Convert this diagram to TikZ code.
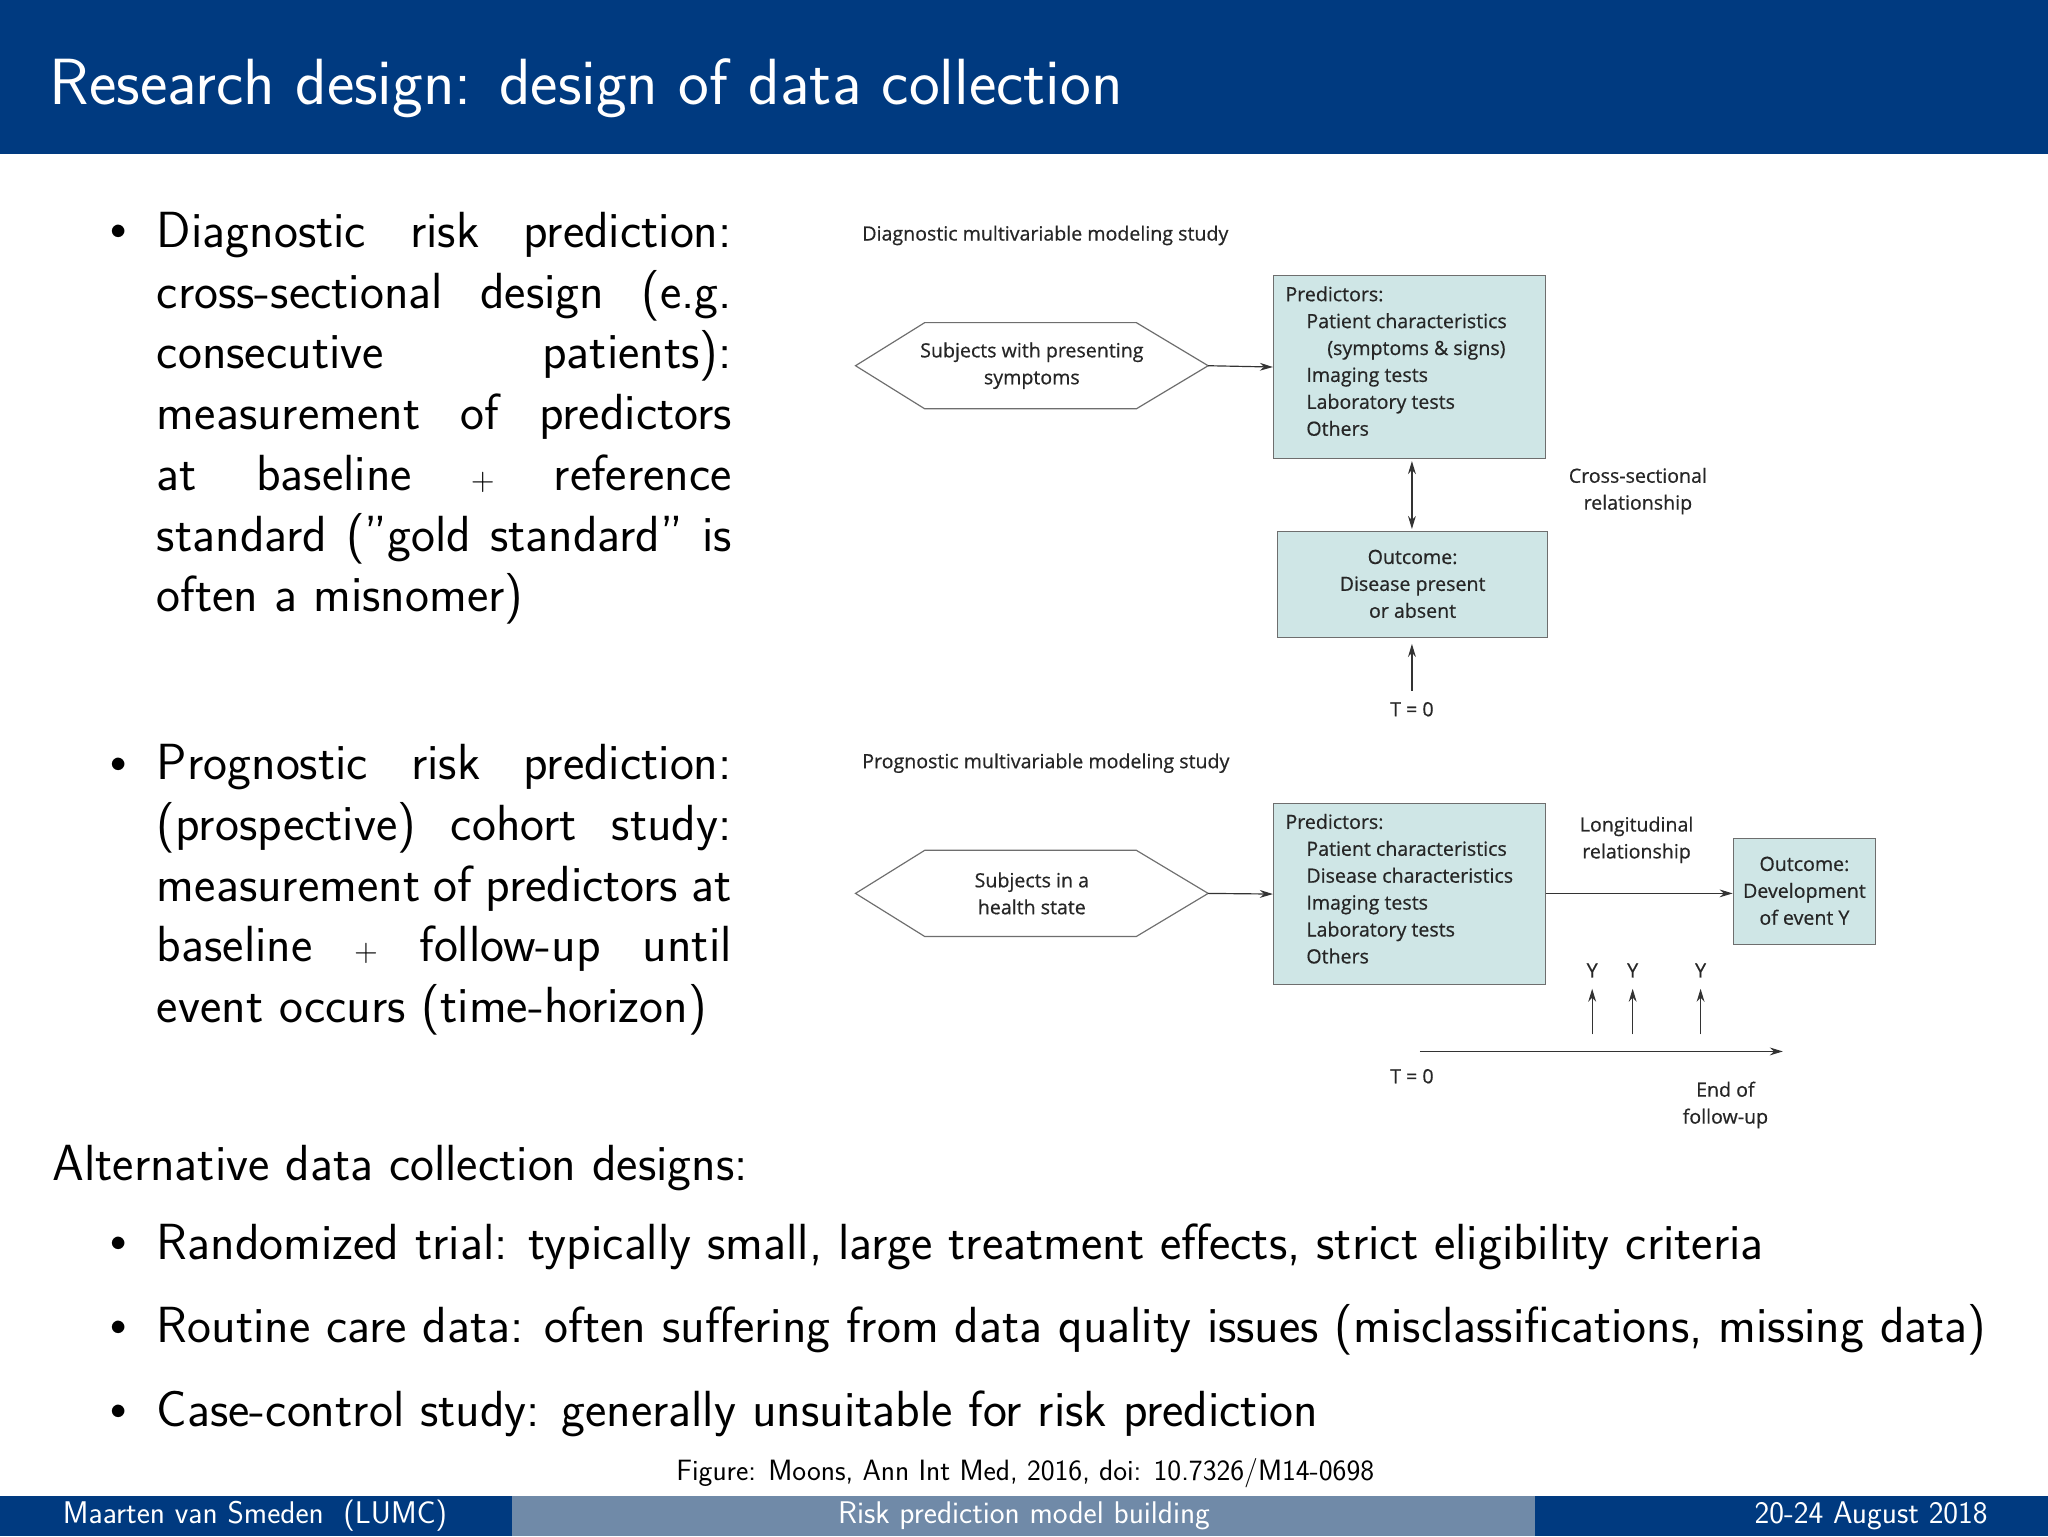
\documentclass[tikz,border=0pt]{standalone}
\usepackage{fontspec}
\newfontfamily\dfont[FakeBold=0.6]{Open Sans}
\usetikzlibrary{arrows.meta}
\definecolor{bar}{RGB}{0,58,128}
\definecolor{midbar}{RGB}{112,138,168}
\definecolor{boxfill}{RGB}{207,230,230}
\definecolor{boxline}{RGB}{110,110,110}
\tikzset{
 slide/.style={anchor=mid west,inner sep=0pt,font=\sffamily\fontsize{38.9}{44}\selectfont},
 dtext/.style={inner sep=0pt,font=\dfont\fontsize{15}{20.6}\selectfont,text=black!85},
 pbox/.style={draw=boxline,fill=boxfill,line width=0.9pt},
 arr/.style={-{Stealth[length=10pt,width=6pt]},line width=0.9pt,black!80},
 foot/.style={inner sep=0pt,font=\sffamily\fontsize{24}{26}\selectfont,text=white}
}
\newcommand{\jl}[1]{\makebox[440pt][s]{#1}}
\begin{document}
\begin{tikzpicture}[x=1pt,y=-1pt]
\useasboundingbox (0,0) rectangle (1568,1176);
\fill[white] (0,0) rectangle (1568,1176);
\fill[bar] (0,0) rectangle (1568,118);
\node[anchor=mid west,inner sep=0pt,text=white,font=\sffamily\fontsize{50}{54}\selectfont] (title) at (38,78) {Research design: design of data collection};
% footer
\fill[bar] (0,1145) rectangle (392,1176);
\fill[midbar] (392,1145) rectangle (1175,1176);
\fill[bar] (1175,1145) rectangle (1568,1176);
\node[foot,anchor=mid west] (f1) at (48,1164) {Maarten van Smeden\ \ (LUMC)};
\node[foot,anchor=mid] (f2) at (784,1164) {Risk prediction model building};
\node[foot,anchor=mid east] (f3) at (1522,1164) {20-24 August 2018};
% bullets
\foreach \y/\n in {178/b1,586/b2,953/b3,1017/b4,1081/b5}
  \node[inner sep=0pt] (\n) at (91,\y) {\fontsize{38}{40}\selectfont$\bullet$};
\node[slide] (l1) at (120,187) {\jl{Diagnostic risk prediction:}};
\node[slide] (l2) at (120,234) {\jl{cross-sectional design (e.g.}};
\node[slide] (l3) at (120,280) {\jl{consecutive patients):}};
\node[slide] (l4) at (120,327) {\jl{measurement of predictors}};
\node[slide] (l5) at (120,373) {\jl{at baseline $+$ reference}};
\node[slide] (l6) at (120,420) {\jl{standard (''gold standard'' is}};
\node[slide] (l7) at (120,466) {often a misnomer)};
\node[slide] (m1) at (120,595) {\jl{Prognostic risk prediction:}};
\node[slide] (m2) at (120,641) {\jl{(prospective) cohort study:}};
\node[slide] (m3) at (120,688) {\jl{measurement of predictors at}};
\node[slide] (m4) at (120,734) {\jl{baseline $+$ follow-up until}};
\node[slide] (m5) at (120,781) {event occurs (time-horizon)};
\node[slide] (alt) at (40,902) {Alternative data collection designs:};
\node[slide] (r1) at (120,962) {Randomized trial: typically small, large treatment effects, strict eligibility criteria};
\node[slide] (r2) at (120,1026) {Routine care data: often suffering from data quality issues (misclassifications, missing data)};
\node[slide] (r3) at (120,1090) {Case-control study: generally unsuitable for risk prediction};
\node[inner sep=0pt,anchor=mid,font=\sffamily\fontsize{22.5}{24}\selectfont] (fig) at (785,1131) {Figure: Moons, Ann Int Med, 2016, doi: 10.7326/M14-0698};
% diagram 1
\node[dtext,anchor=mid west] (t1) at (660,182) {Diagnostic multivariable modeling study};
\draw[pbox,fill=white] (655,280) -- (708,247) -- (870,247) -- (925,280) -- (870,313) -- (708,313) -- cycle;
\coordinate (h1r) at (925,280);
\node[dtext,align=center] (h1) at (790,280) {Subjects with presenting\\symptoms};
\node[pbox,minimum width=208pt,minimum height=140pt,inner sep=0pt] (p1) at (1079,281) {};
\node[dtext,anchor=north west,align=left] (p1t) at (984,219) {Predictors:\\\hspace{16pt}Patient characteristics\\\hspace{32pt}(symptoms \& signs)\\\hspace{16pt}Imaging tests\\\hspace{16pt}Laboratory tests\\\hspace{16pt}Others};
\draw[arr] (h1r) -- (p1.west);
\node[pbox,minimum width=207pt,minimum height=81pt,inner sep=0pt] (o1) at (1081.5,447.5) {};
\node[dtext,align=center] (o1t) at (1081.5,447) {Outcome:\\Disease present\\or absent};
\draw[arr,{Stealth[length=10pt,width=6pt]}-{Stealth[length=10pt,width=6pt]}] (1081,353) -- (1081,405);
\node[dtext,align=center] (cs) at (1254,376) {Cross-sectional\\relationship};
\node[dtext] (t0a) at (1081,543) {T = 0};
\coordinate (t0au) at (1081,529);
\draw[arr] (t0au) -- (1081,493);
% diagram 2
\node[dtext,anchor=mid west] (t2) at (660,586) {Prognostic multivariable modeling study};
\draw[pbox,fill=white] (655,684) -- (708,651) -- (870,651) -- (925,684) -- (870,717) -- (708,717) -- cycle;
\coordinate (h2r) at (925,684);
\node[dtext,align=center] (h2) at (790,684) {Subjects in a\\health state};
\node[pbox,minimum width=208pt,minimum height=139pt,inner sep=0pt] (p2) at (1079,684.5) {};
\node[dtext,anchor=north west,align=left] (p2t) at (984,623) {Predictors:\\\hspace{16pt}Patient characteristics\\\hspace{16pt}Disease characteristics\\\hspace{16pt}Imaging tests\\\hspace{16pt}Laboratory tests\\\hspace{16pt}Others};
\draw[arr] (h2r) -- (p2.west);
\node[pbox,minimum width=109pt,minimum height=81pt,inner sep=0pt] (o2) at (1381.5,682.5) {};
\node[dtext,align=center] (o2t) at (1381.5,682) {Outcome:\\Development\\of event Y};
\draw[arr] (p2.east |- 0,684) -- (o2.west |- 0,684);
\node[dtext,align=center] (lg) at (1253,643) {Longitudinal\\relationship};
\foreach \x/\n in {1219/ya,1250/yb,1302/yc}{
  \node[dtext] (\n) at (\x,743) {Y};
  \coordinate (\n b) at (\x,792);
  \draw[arr] (\n b) -- (\x,757);
}
\coordinate (tl0) at (1087,805);
\coordinate (tl1) at (1365,805);
\draw[arr] (tl0) -- (tl1);
\node[dtext] (t0b) at (1081,824) {T = 0};
\node[dtext,align=center] (eof) at (1321,846) {End of\\follow-up};
\end{tikzpicture}
\end{document}
